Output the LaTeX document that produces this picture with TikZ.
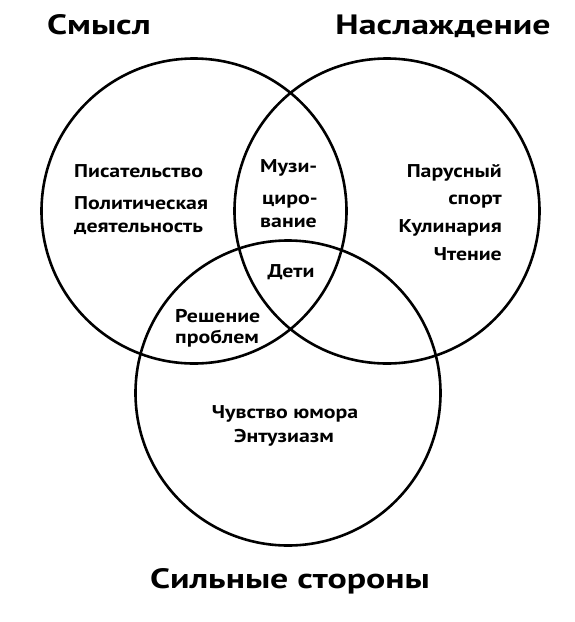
\documentclass[tikz,border=0pt]{standalone}
\usepackage{fontspec}
\setmainfont{PT Sans}
\newfontfamily\lblfont{PT Sans}[FakeStretch=1.18]
\newfontfamily\ttlfont{PT Sans}[FakeStretch=1.28]
\begin{document}
\begin{tikzpicture}[x=1pt,y=-1pt,
  ring/.style={circle,draw=black,line width=2.6pt,minimum size=305pt,inner sep=0pt},
  title/.style={font=\ttlfont\fontsize{28}{30}\selectfont\bfseries,inner sep=0pt},
  lbl/.style={font=\lblfont\fontsize{18.5}{20}\selectfont\bfseries,inner sep=0pt}]
\useasboundingbox (0,0) rectangle (574,622);
\node[ring] (L) at (194,211) {};
\node[ring] (R) at (387,211) {};
\node[ring] (B) at (288,393) {};
% titles
\node[title,anchor=base] (tL) at (99,34) {Смысл};
\node[title,anchor=base] (tR) at (443,34) {Наслаждение};
\node[title,anchor=base] (tB) at (290,588) {Сильные стороны};
% left only
\node[lbl,anchor=base west] (l1) at (74,177) {Писательство};
\node[lbl,anchor=base west] (l2) at (74,209) {Политическая};
\node[lbl,anchor=base west] (l3) at (74,232) {деятельность};
% left & right
\node[lbl,anchor=base west] (m1) at (260,172) {Музи-};
\node[lbl,anchor=base west] (m2) at (262,204) {циро-};
\node[lbl,anchor=base west] (m3) at (260,227) {вание};
% all three
\node[lbl,anchor=base] (d) at (291,277) {Дети};
% left & bottom
\node[lbl,anchor=base west] (p1) at (175,322) {Решение};
\node[lbl,anchor=base west] (p2) at (175,343) {проблем};
% right only
\node[lbl,anchor=base east] (r1) at (502,177) {Парусный};
\node[lbl,anchor=base east] (r2) at (502,204) {спорт};
\node[lbl,anchor=base east] (r3) at (502,232) {Кулинария};
\node[lbl,anchor=base east] (r4) at (502,260) {Чтение};
% bottom only
\node[lbl,anchor=base] (b1) at (285,418) {Чувство юмора};
\node[lbl,anchor=base] (b2) at (284,442) {Энтузиазм};
\end{tikzpicture}
\end{document}
